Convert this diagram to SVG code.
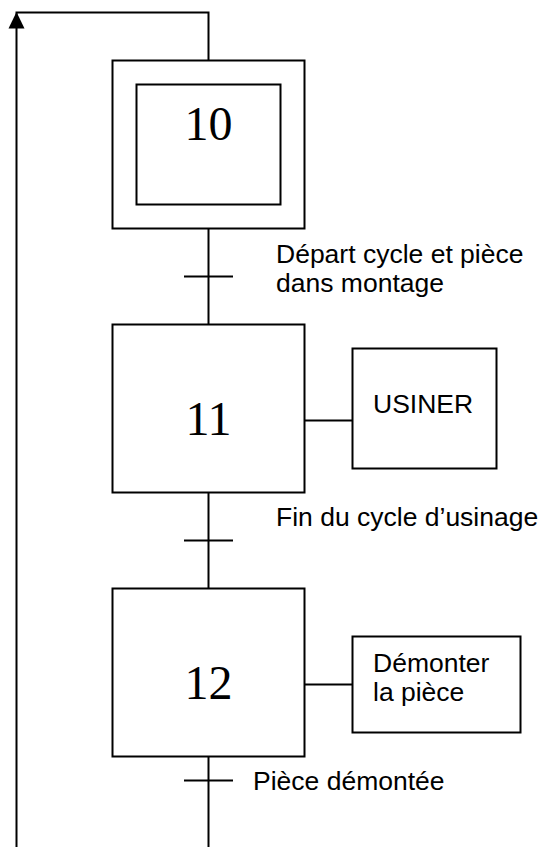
<svg xmlns="http://www.w3.org/2000/svg" width="551" height="847" viewBox="0 0 551 847">
<style>
.ln{stroke:#000;stroke-width:2;fill:none}
.bx{stroke:#000;stroke-width:2;fill:#fff}
.num{font-family:"Liberation Serif","Times New Roman",serif;font-size:48px;fill:#000;text-anchor:middle}
.lb{font-family:"Liberation Sans",Arial,sans-serif;font-size:26.5px;fill:#000}
.ah{fill:#000}
</style>
<rect width="551" height="847" fill="#fff"/>
<g id="connectors">
<path class="ln" d="M208.5,60.5 V12.5 H16.5 V847"/>
<path class="ah" d="M16.5,12 L8.5,28.5 L24.5,28.5 Z"/>
<path class="ln" d="M208.5,228.5 V324.5"/>
<path class="ln" d="M184,276.5 H233"/>
<path class="ln" d="M208.5,492.5 V588.5"/>
<path class="ln" d="M184,540.5 H233"/>
<path class="ln" d="M208.5,756.5 V847"/>
<path class="ln" d="M184,780.5 H233"/>
<path class="ln" d="M304.5,420.5 H352.5"/>
<path class="ln" d="M304.5,684.5 H352.5"/>
</g>
<g id="step10">
<rect class="bx" x="112.5" y="60.5" width="192" height="168"/>
<rect class="bx" x="136.5" y="84.5" width="144" height="120"/>
<text class="num" x="208.5" y="140">10</text>
</g>
<g id="t1">
<text class="lb" x="276" y="263">Départ cycle et pièce</text>
<text class="lb" x="276" y="292">dans montage</text>
</g>
<g id="step11">
<rect class="bx" x="112.5" y="324.5" width="192" height="168"/>
<text class="num" x="208.5" y="435">11</text>
</g>
<g id="action11">
<rect class="bx" x="352.5" y="348.5" width="144" height="120"/>
<text class="lb" x="373" y="413">USINER</text>
</g>
<g id="t2">
<text class="lb" x="276" y="526">Fin du cycle d’usinage</text>
</g>
<g id="step12">
<rect class="bx" x="112.5" y="588.5" width="192" height="168"/>
<text class="num" x="208.5" y="699">12</text>
</g>
<g id="action12">
<rect class="bx" x="352.5" y="636.5" width="168" height="96"/>
<text class="lb" x="373" y="672">Démonter</text>
<text class="lb" x="373" y="701">la pièce</text>
</g>
<g id="t3">
<text class="lb" x="253" y="790">Pièce démontée</text>
</g>
</svg>
